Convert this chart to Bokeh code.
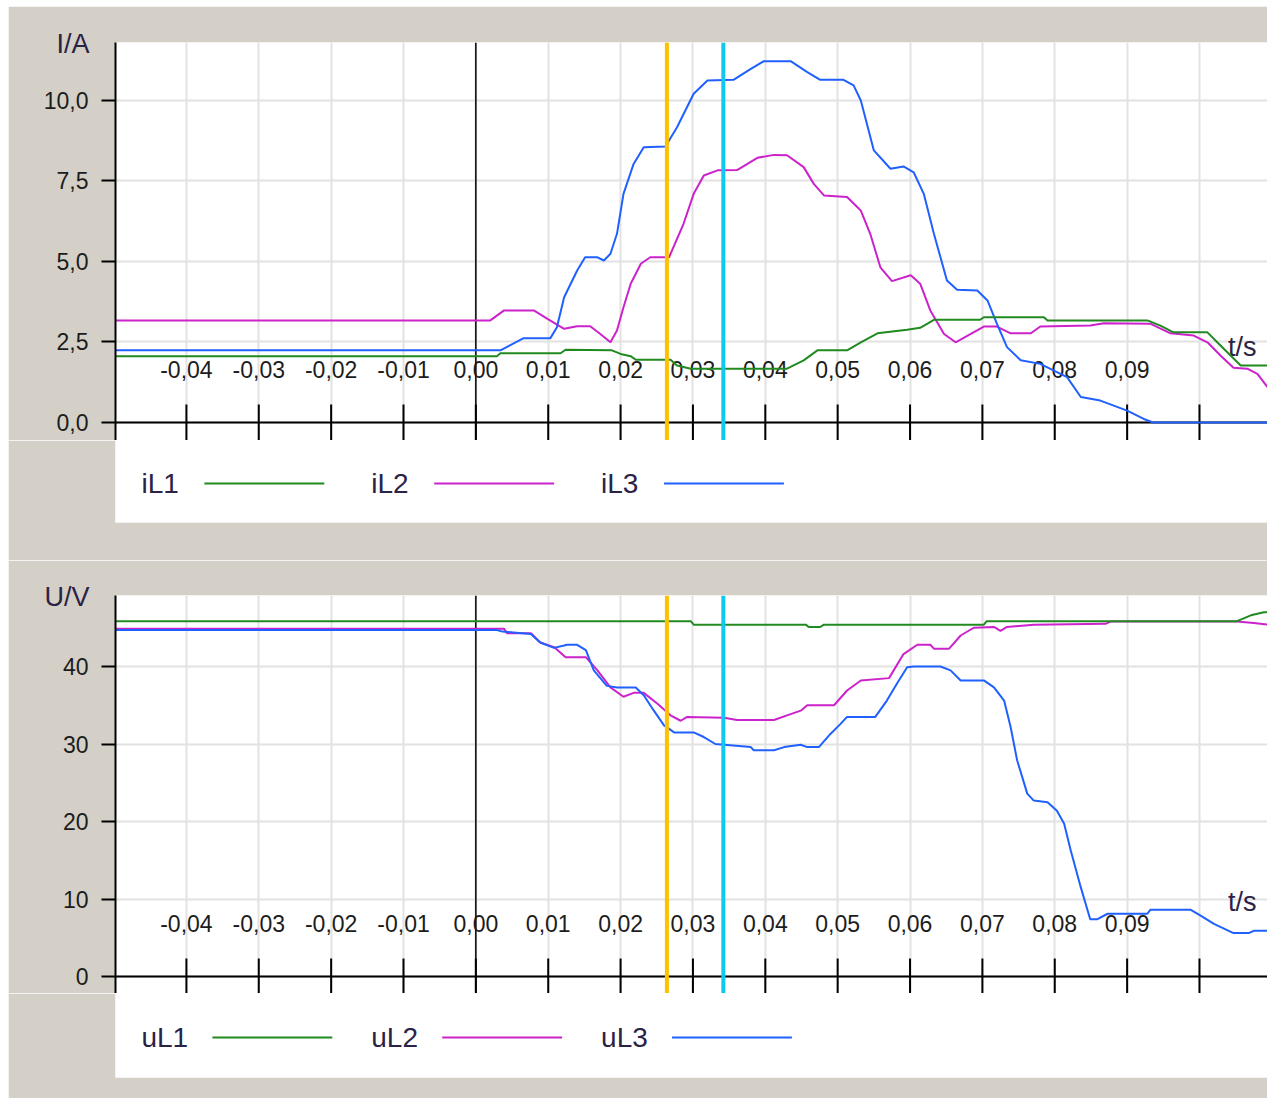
from math import pi

from bokeh.core.properties import value
from bokeh.embed import file_html
from bokeh.layouts import column
from bokeh.models import (CustomJSTickFormatter, FixedTicker, Grid, Range1d,
                          Span, Title)
from bokeh.plotting import figure
from bokeh.resources import INLINE

# ---------------------------------------------------------------- data
# recorded time window (s), trigger at t = 0 and the two measuring cursors
T_START, T_END = -0.0498, 0.1094
T_TRIGGER = 0.0
CURSOR_A, CURSOR_B = 0.0264, 0.0342

time_ticks = [-0.04, -0.03, -0.02, -0.01, 0.00, 0.01, 0.02, 0.03,
              0.04, 0.05, 0.06, 0.07, 0.08, 0.09, 0.10]
time_labels = ["-0,04", "-0,03", "-0,02", "-0,01", "0,00", "0,01", "0,02",
               "0,03", "0,04", "0,05", "0,06", "0,07", "0,08", "0,09"]

current_ticks = [0.0, 2.5, 5.0, 7.5, 10.0]
voltage_ticks = [0, 10, 20, 30, 40]

current_names = ["iL1", "iL2", "iL3"]
voltage_names = ["uL1", "uL2", "uL3"]

# phase currents (A)
il1_t = [-0.0498, 0.0029, 0.0034, 0.0117, 0.0124, 0.0188, 0.0200, 0.0214,
         0.0221, 0.0269, 0.0278, 0.0297, 0.0430, 0.0453, 0.0472, 0.0513,
         0.0532, 0.0555, 0.0596, 0.0614, 0.0633, 0.0697, 0.0702, 0.0785,
         0.0790, 0.0928, 0.0946, 0.0964, 0.1011, 0.1029, 0.1057, 0.1094]
il1 = [2.06, 2.06, 2.15, 2.15, 2.26, 2.24, 2.13, 2.06,
       1.95, 1.95, 1.77, 1.67, 1.67, 1.93, 2.24, 2.24,
       2.49, 2.77, 2.88, 2.94, 3.19, 3.19, 3.27, 3.27,
       3.17, 3.17, 3.01, 2.80, 2.80, 2.39, 1.77, 1.77]

il2_t = [-0.0498, 0.0020, 0.0039, 0.0080, 0.0099, 0.0122, 0.0140, 0.0158,
         0.0172, 0.0186, 0.0195, 0.0204, 0.0214, 0.0228, 0.0241, 0.0267,
         0.0287, 0.0301, 0.0315, 0.0334, 0.0361, 0.0389, 0.0412, 0.0430,
         0.0453, 0.0467, 0.0481, 0.0513, 0.0527, 0.0532, 0.0545, 0.0559,
         0.0575, 0.0601, 0.0614, 0.0628, 0.0647, 0.0663, 0.0684, 0.0702,
         0.0720, 0.0739, 0.0767, 0.0780, 0.0849, 0.0868, 0.0932, 0.0960,
         0.0992, 0.1011, 0.1029, 0.1047, 0.1066, 0.1080, 0.1094]
il2 = [3.17, 3.17, 3.48, 3.48, 3.22, 2.91, 2.99, 2.99,
       2.75, 2.49, 2.86, 3.58, 4.31, 4.93, 5.13, 5.13,
       6.17, 7.10, 7.67, 7.83, 7.84, 8.22, 8.31, 8.30,
       7.93, 7.41, 7.05, 7.00, 6.69, 6.58, 5.86, 4.82,
       4.39, 4.57, 4.31, 3.48, 2.75, 2.49, 2.75, 2.98,
       2.98, 2.77, 2.77, 2.98, 3.01, 3.08, 3.07, 2.77,
       2.70, 2.49, 2.08, 1.70, 1.67, 1.51, 1.10]

il3_t = [-0.0498, 0.0034, 0.0066, 0.0103, 0.0112, 0.0122, 0.0140, 0.0151,
         0.0168, 0.0177, 0.0186, 0.0195, 0.0204, 0.0218, 0.0232, 0.0262,
         0.0278, 0.0301, 0.0320, 0.0356, 0.0380, 0.0398, 0.0435, 0.0458,
         0.0476, 0.0508, 0.0522, 0.0532, 0.0550, 0.0573, 0.0591, 0.0605,
         0.0619, 0.0633, 0.0651, 0.0665, 0.0693, 0.0707, 0.0720, 0.0734,
         0.0753, 0.0780, 0.0817, 0.0836, 0.0863, 0.0900, 0.0923, 0.0936,
         0.1094]
il3 = [2.24, 2.24, 2.62, 2.62, 2.96, 3.89, 4.72, 5.13,
       5.13, 5.03, 5.24, 5.86, 7.10, 8.03, 8.55, 8.57,
       9.17, 10.21, 10.62, 10.64, 10.98, 11.22, 11.22, 10.88,
       10.64, 10.64, 10.47, 10.00, 8.45, 7.88, 7.95, 7.77,
       7.10, 5.86, 4.41, 4.12, 4.10, 3.79, 3.07, 2.34,
       1.93, 1.82, 1.41, 0.79, 0.68, 0.37, 0.11, 0.00,
       0.00]

# phase voltages (V)
ul1_t = [-0.0498, 0.0297, 0.0301, 0.0456, 0.0460, 0.0476, 0.0481, 0.0702,
         0.0706, 0.1052, 0.1071, 0.1089, 0.1094]
ul1 = [45.85, 45.85, 45.4, 45.4, 45.1, 45.1, 45.4, 45.4,
       45.85, 45.85, 46.6, 47.0, 47.0]

ul2_t = [-0.0498, 0.0039, 0.0043, 0.0076, 0.0089, 0.0108, 0.0124, 0.0152,
         0.0168, 0.0186, 0.0204, 0.0218, 0.0232, 0.0251, 0.0269, 0.0283,
         0.0292, 0.0343, 0.0361, 0.0412, 0.0430, 0.0449, 0.0458, 0.0495,
         0.0513, 0.0532, 0.0571, 0.0591, 0.0610, 0.0628, 0.0633, 0.0654,
         0.0670, 0.0688, 0.0716, 0.0725, 0.0734, 0.0771, 0.0870, 0.0877,
         0.1052, 0.1075, 0.1094]
ul2 = [44.86, 44.86, 44.3, 44.3, 43.1, 42.5, 41.2, 41.2,
       39.5, 37.3, 36.1, 36.6, 36.6, 35.2, 33.7, 33.0,
       33.5, 33.4, 33.1, 33.1, 33.7, 34.3, 35.0, 35.0,
       36.9, 38.2, 38.5, 41.6, 42.8, 42.8, 42.3, 42.3,
       44.0, 45.0, 45.1, 44.6, 45.1, 45.4, 45.5, 45.8,
       45.8, 45.6, 45.4]

ul3_t = [-0.0498, 0.0029, 0.0037, 0.0076, 0.0089, 0.0108, 0.0122, 0.0126,
         0.0140, 0.0152, 0.0163, 0.0181, 0.0195, 0.0221, 0.0232, 0.0246,
         0.0260, 0.0274, 0.0301, 0.0315, 0.0331, 0.0380, 0.0384, 0.0412,
         0.0426, 0.0449, 0.0458, 0.0474, 0.0490, 0.0504, 0.0513, 0.0552,
         0.0568, 0.0582, 0.0596, 0.0605, 0.0642, 0.0656, 0.0670, 0.0702,
         0.0716, 0.0730, 0.0739, 0.0748, 0.0762, 0.0771, 0.0790, 0.0803,
         0.0813, 0.0822, 0.0836, 0.0849, 0.0859, 0.0873, 0.0928, 0.0932,
         0.0988, 0.1001, 0.1020, 0.1047, 0.1068, 0.1075, 0.1094]
ul3 = [44.7, 44.7, 44.5, 44.2, 43.1, 42.4, 42.7, 42.8,
       42.8, 42.1, 39.5, 37.5, 37.3, 37.3, 36.3, 34.3,
       32.4, 31.5, 31.5, 30.9, 30.0, 29.6, 29.2, 29.2,
       29.6, 29.9, 29.6, 29.6, 31.3, 32.6, 33.5, 33.5,
       35.6, 37.8, 39.9, 40.0, 40.0, 39.5, 38.2, 38.2,
       37.3, 35.6, 32.2, 27.9, 23.6, 22.7, 22.5, 21.4,
       19.7, 16.3, 11.5, 7.4, 7.4, 8.1, 8.1, 8.6,
       8.6, 7.9, 6.8, 5.6, 5.6, 5.9, 5.9]

# ---------------------------------------------------------------- style
FONT = "Liberation Sans"
PANEL_BG = "#d4d0c8"
GRID = "#e2e2e2"
TEXT = "#1c1c1c"
NAME_TEXT = "#2b2346"
PHASE_COLORS = ["#208a20", "#cc22cc", "#2060ff"]
CURSOR_COLORS = ["#ffc000", "#10c8f0"]

WIDTH = 1259
FRAME_LEFT = 107


def scope_panel(height, top_border, y_lo, y_hi, y_ticks, decimals,
                unit, unit_offset, series):
    p = figure(width=WIDTH, height=height,
               x_range=Range1d(T_START, T_END), y_range=Range1d(y_lo, y_hi),
               x_axis_location=None, output_backend="svg", toolbar_location=None,
               min_border_left=FRAME_LEFT, min_border_right=0,
               min_border_top=top_border, min_border_bottom=0,
               background_fill_color="white", border_fill_color=PANEL_BG,
               outline_line_color=None)
    p.xgrid.visible = False

    # unit caption sitting above the value axis
    p.add_layout(Title(text=unit, align="left", offset=unit_offset,
                       vertical_align="bottom", standoff=-32, text_font=FONT,
                       text_font_size="27px", text_font_style="normal",
                       text_color=NAME_TEXT), "above")

    # value axis on the left
    ax = p.yaxis[0]
    ax.ticker = FixedTicker(ticks=y_ticks)
    ax.formatter = CustomJSTickFormatter(
        code=f"return tick.toFixed({decimals}).replace('.', ',');")
    ax.axis_line_color = "black"
    ax.axis_line_width = 2
    ax.major_tick_line_color = "black"
    ax.major_tick_line_width = 2
    ax.major_tick_out = 14
    ax.major_tick_in = 0
    ax.minor_tick_out = 0
    ax.minor_tick_in = 0
    ax.major_label_standoff = 13
    ax.major_label_text_font = FONT
    ax.major_label_text_font_size = "23px"
    ax.major_label_text_color = TEXT

    p.ygrid.ticker = FixedTicker(ticks=y_ticks)
    p.ygrid.grid_line_color = GRID
    p.ygrid.grid_line_width = 2
    p.add_layout(Grid(dimension=0, ticker=FixedTicker(ticks=time_ticks),
                      grid_line_color=GRID, grid_line_width=2))

    # time axis drawn through zero, trigger line at t = 0
    p.add_layout(Span(location=0, dimension="width", line_color="black",
                      line_width=2, level="underlay"))
    p.add_layout(Span(location=T_TRIGGER, dimension="height", line_color="black",
                      line_width=1.5, level="underlay"))
    p.scatter(x=time_ticks, y=[0] * len(time_ticks), marker="dash", size=36,
              angle=pi / 2, line_color="black", line_width=2)
    p.text(x=time_ticks[:len(time_labels)], y=[0] * len(time_labels),
           text=time_labels, y_offset=-53, text_align="center",
           text_baseline="middle", text_font=value(FONT),
           text_font_size="23px", text_color=TEXT)
    p.text(x=[0.1059], y=[0], text=["t/s"], y_offset=-75, text_align="center",
           text_baseline="middle", text_font=value(FONT),
           text_font_size="27px", text_color=NAME_TEXT)

    for t, v, color in series:
        p.line(t, v, line_color=color, line_width=2)

    for loc, color in zip([CURSOR_A, CURSOR_B], CURSOR_COLORS):
        p.add_layout(Span(location=loc, dimension="height", line_color=color,
                          line_width=4))
    return p


def legend_strip(height, box_height, names, label_gap):
    p = figure(width=WIDTH, height=height,
               x_range=Range1d(0, WIDTH - FRAME_LEFT + 1), y_range=Range1d(0, box_height),
               x_axis_location=None, y_axis_location=None,
               output_backend="svg", toolbar_location=None,
               min_border_left=FRAME_LEFT - 1, min_border_right=0,
               min_border_top=0, min_border_bottom=height - box_height,
               background_fill_color="white", border_fill_color=PANEL_BG,
               outline_line_color=None)
    p.grid.visible = False
    step, first, line_len = 230, 26, 120
    mid = box_height / 2 - 2
    xs = [first + i * step for i in range(len(names))]
    p.text(x=xs, y=[mid] * len(names), text=names, text_align="left",
           text_baseline="middle", text_font=value(FONT),
           text_font_size="28px", text_color=NAME_TEXT)
    p.segment(x0=[x + label_gap for x in xs], y0=[mid] * len(names),
              x1=[x + label_gap + line_len for x in xs], y1=[mid] * len(names),
              line_color=PHASE_COLORS, line_width=2)
    return p


currents = scope_panel(434, 36, -0.559, 11.80, current_ticks, 1, "I/A", -59,
                       [(il2_t, il2, PHASE_COLORS[1]),
                        (il3_t, il3, PHASE_COLORS[2]),
                        (il1_t, il1, PHASE_COLORS[0])])
currents_legend = legend_strip(120, 82, current_names, 63)

voltages = scope_panel(433, 35, -2.19, 49.16, voltage_ticks, 0, "U/V", -71,
                       [(ul2_t, ul2, PHASE_COLORS[1]),
                        (ul3_t, ul3, PHASE_COLORS[2]),
                        (ul1_t, ul1, PHASE_COLORS[0])])
voltages_legend = legend_strip(105, 84, voltage_names, 71)

page = column(currents, currents_legend, voltages, voltages_legend,
              spacing=0, margin=(6, 0, 0, 8))

open("out.html", "w").write(file_html(page, INLINE))
